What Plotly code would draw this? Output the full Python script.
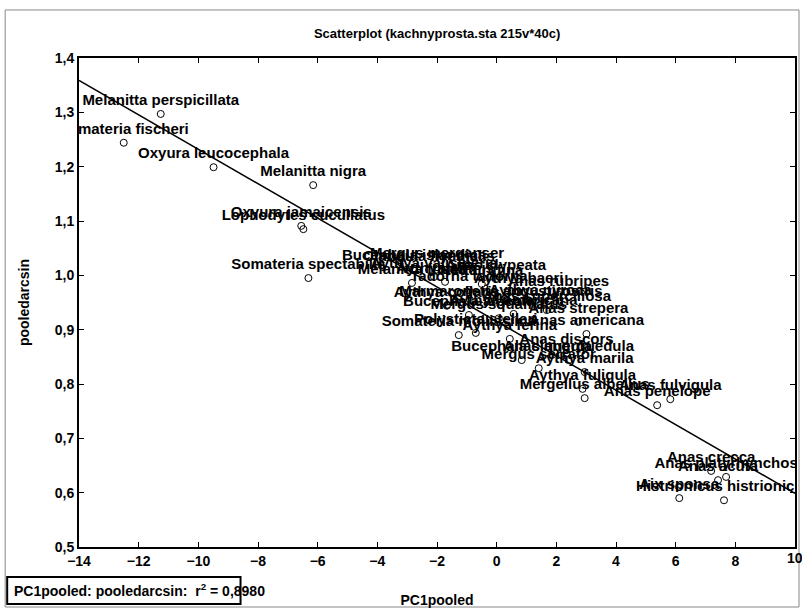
import numpy as np
import plotly.graph_objects as go

species = [
    "Melanitta perspicillata", "Somateria fischeri", "Oxyura leucocephala", "Melanitta nigra",
    "Oxyura jamaicensis", "Lophodytes cucullatus", "Somateria spectabilis", "Mergus merganser",
    "Anas clypeata", "Anas rubripes", "Marmaronetta angustirostris", "Aythya americana",
    "Anas strepera", "Anas americana", "Anas discors", "Anas querquedula",
    "Bucephala clangula", "Mergus serrator", "Aythya marila", "Aythya fuligula",
    "Mergellus albellus", "Anas fulvigula", "Anas penelope", "Somateria mollissima",
    "Polysticta stelleri", "Aythya ferina", "Anas crecca", "Anas acuta",
    "Anas platyrhynchos", "Aix sponsa", "Histrionicus histrionicus", "Bucephala islandica",
    "Clangula hyemalis", "Aythya valisineria", "Aythya affinis", "Netta rufina",
    "Melanitta fusca", "Aythya collaris", "Aythya nyroca", "Bucephala albeola",
    "Tadorna tadorna", "Aythya baeri", "Anas superciliosa", "Mergus squamatus",
]
pc1pooled = [
    -11.26, -12.50, -9.49, -6.15,
    -6.55, -6.48, -6.31, -2.00,
    -0.03, 2.08, 0.14, 0.57,
    2.74, 3.01, 2.34, 2.41,
    0.84, 1.41, 2.95, 2.88,
    2.95, 5.82, 5.38, -1.27,
    -0.70, 0.44, 7.19, 7.42,
    7.69, 6.12, 7.62, -2.77,
    -2.27, -2.10, -1.73, -0.50,
    -2.84, -1.67, 1.47, -0.93,
    -0.93, 0.74, 1.68, 0.07,
]
pooledarcsin = [
    1.297, 1.244, 1.199, 1.166,
    1.091, 1.085, 0.995, 1.015,
    0.993, 0.964, 0.945, 0.929,
    0.914, 0.892, 0.857, 0.844,
    0.844, 0.829, 0.822, 0.791,
    0.774, 0.772, 0.761, 0.890,
    0.894, 0.883, 0.640, 0.623,
    0.629, 0.590, 0.586, 1.012,
    1.010, 0.997, 0.988, 0.984,
    0.986, 0.944, 0.947, 0.927,
    0.973, 0.969, 0.936, 0.921,
]
x_ticks = [-14, -12, -10, -8, -6, -4, -2, 0, 2, 4, 6, 8, 10]
y_ticks = [0.5, 0.6, 0.7, 0.8, 0.9, 1.0, 1.1, 1.2, 1.3, 1.4]
y_tick_labels = ["0,5", "0,6", "0,7", "0,8", "0,9", "1,0", "1,1", "1,2", "1,3", "1,4"]
r2_text = "0,8980"

FONT = "Liberation Sans"
BOLD14 = dict(family=FONT, size=14, color="black", weight="bold")

slope, intercept = np.polyfit(pc1pooled, pooledarcsin, 1)
line_x = np.array([x_ticks[0], x_ticks[-1]])
line_y = intercept + slope * line_x

fig = go.Figure()
fig.add_trace(go.Scatter(
    x=line_x, y=line_y, mode="lines",
    line=dict(color="black", width=1.5), hoverinfo="skip", showlegend=False,
))
fig.add_trace(go.Scatter(
    x=pc1pooled, y=pooledarcsin, mode="markers+text", text=species,
    textposition="top center",
    textfont=dict(family=FONT, size=15, color="black", weight="bold"),
    marker=dict(symbol="circle-open", size=7, color="black", line=dict(width=1)),
    cliponaxis=True, showlegend=False,
))

axis_common = dict(
    showgrid=False, zeroline=False, showline=True, linecolor="black", linewidth=2,
    mirror="ticks", ticks="inside", ticklen=5, tickcolor="black", tickwidth=1,
    tickfont=BOLD14,
)
fig.update_xaxes(range=[x_ticks[0], x_ticks[-1]], tickvals=x_ticks[:-1], **axis_common,
                 title=dict(text="PC1pooled", font=BOLD14, standoff=27))
fig.update_yaxes(range=[y_ticks[0], y_ticks[-1]], tickvals=y_ticks, ticktext=y_tick_labels, **axis_common,
                 title=dict(text="pooledarcsin", font=BOLD14, standoff=22))

fig.update_layout(
    width=802, height=611,
    margin=dict(l=79, r=5, t=58, b=64),
    paper_bgcolor="white", plot_bgcolor="white",
    title=dict(text="Scatterplot (kachnyprosta.sta 215v*40c)", x=0.545, xanchor="center",
               y=1 - 33 / 611, yanchor="middle",
               font=dict(family=FONT, size=13, color="black", weight="bold")),
    shapes=[
        dict(type="rect", xref="paper", yref="paper", x0=-0.1031, x1=1.0056, y0=-0.1227, y1=1.0982,
             line=dict(color="#888888", width=1)),
        dict(type="rect", xref="paper", yref="paper", x0=-0.1003, x1=0.2256, y0=-0.1166, y1=-0.0613,
             line=dict(color="black", width=2)),
    ],
    annotations=[
        dict(xref="paper", yref="paper", x=-0.0933, y=-0.0889, xanchor="left", yanchor="middle",
             text="PC1pooled: pooledarcsin:  r<sup>2</sup> = " + r2_text, showarrow=False,
             font=BOLD14),
        dict(xref="x", yref="paper", x=x_ticks[-1], y=-0.003, xanchor="center", yanchor="top",
             text=str(x_ticks[-1]), showarrow=False, font=BOLD14),
    ],
)
fig.write_html("out.html")
